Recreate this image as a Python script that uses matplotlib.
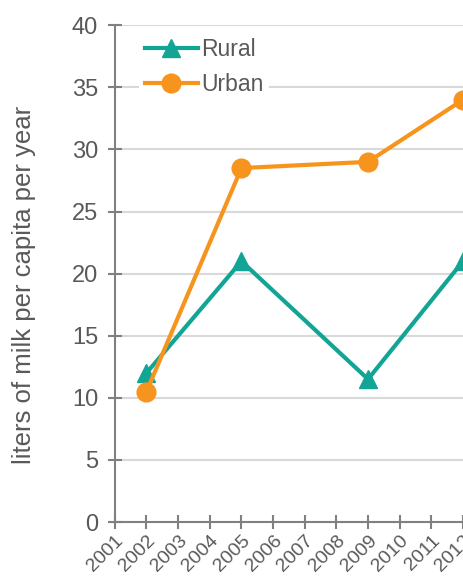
import matplotlib
matplotlib.use("Agg")
import matplotlib.pyplot as plt

years = [2001, 2002, 2003, 2004, 2005, 2006, 2007, 2008, 2009, 2010, 2011, 2012]
data_years = [2002, 2005, 2009, 2012]
rural = [12.0, 21.0, 11.5, 21.0]
urban = [10.5, 28.5, 29.0, 34.0]

plt.rcParams['font.family'] = ['Liberation Sans', 'DejaVu Sans']
gray = '#595959'
fig = plt.figure(figsize=(4.63, 5.79), dpi=100)
ax = fig.add_axes([0.248, 0.0984, 0.752, 0.858])

ax.plot(data_years, rural, color='#12a595', lw=3, marker='^', ms=13, label='Rural', clip_on=False, zorder=3)
ax.plot(data_years, urban, color='#f7941d', lw=3, marker='o', ms=13.5, label='Urban', clip_on=False, zorder=4)

ax.set_xlim(2001, 2012)
ax.set_ylim(0, 40)
ax.set_yticks(range(0, 41, 5))
ax.set_xticks(years)
ax.set_xticklabels([str(y) for y in years], rotation=45, ha='right', rotation_mode='anchor')
ax.grid(axis='y', color='#d9d9d9', lw=1.5)
ax.set_axisbelow(True)
for s in ['top', 'right']:
    ax.spines[s].set_visible(False)
for s in ['left', 'bottom']:
    ax.spines[s].set_color('#808080')
    ax.spines[s].set_linewidth(1.5)
ax.tick_params(axis='both', colors='#808080', labelcolor=gray, direction='inout', length=10, width=1.5)
ax.tick_params(axis='y', pad=7, labelsize=17)
ax.tick_params(axis='x', pad=2.5, labelsize=14)
ax.set_ylabel('liters of milk per capita per year', fontsize=18.5, color=gray)
ax.yaxis.set_label_coords(-0.225, 0.477)

leg = ax.legend(loc='upper left', bbox_to_anchor=(0.07, 0.985), frameon=True, fontsize=16.5,
                handlelength=2.3, handletextpad=0.15, labelspacing=0.5, borderpad=0.25,
                borderaxespad=0.0)
leg.get_frame().set_edgecolor('none')
leg.get_frame().set_facecolor('white')
leg.get_frame().set_alpha(1)
leg.get_frame().set_boxstyle('square', pad=0)
for t in leg.get_texts():
    t.set_color(gray)

fig.savefig('out.png', dpi=100)
